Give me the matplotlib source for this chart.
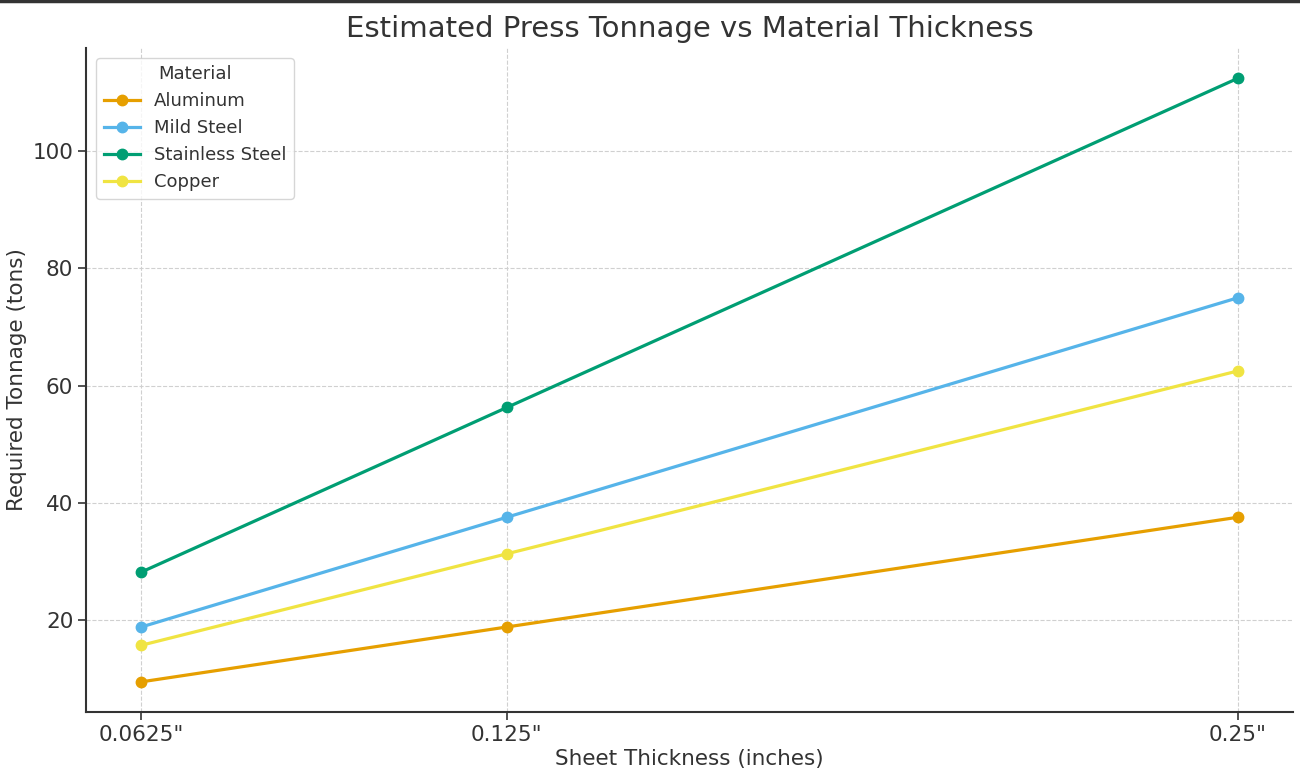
import matplotlib
matplotlib.use("Agg")
import matplotlib.pyplot as plt
from matplotlib.lines import Line2D

thickness = [0.0625, 0.125, 0.25]
tick_labels = ['0.0625"', '0.125"', '0.25"']
materials = ["Aluminum", "Mild Steel", "Stainless Steel", "Copper"]
aluminum = [9.375, 18.75, 37.5]
mild_steel = [18.75, 37.5, 75.0]
stainless = [28.125, 56.25, 112.5]
copper = [15.625, 31.25, 62.5]
colors = ["#E69F00", "#56B4E9", "#009E73", "#F0E442"]

text_color = "#333333"
plt.rcParams['font.family'] = ['DejaVu Sans']
plt.rcParams['text.color'] = text_color
plt.rcParams['axes.labelcolor'] = text_color
plt.rcParams['xtick.color'] = text_color
plt.rcParams['ytick.color'] = text_color

fig = plt.figure(figsize=(13, 7.81), dpi=100)
ax = fig.add_axes([0.0665, 0.0883, 0.928, 0.8502])

for name, vals, c in zip(materials, [aluminum, mild_steel, stainless, copper], colors):
    ax.plot(thickness, vals, marker='o', color=c, lw=2.3, markersize=7.5, label=name)

ax.set_xticks(thickness)
ax.set_xticklabels(tick_labels)
ax.tick_params(labelsize=15.5, length=6, width=1.2)
ax.set_xlabel("Sheet Thickness (inches)", fontsize=15.5, labelpad=3)
ax.set_ylabel("Required Tonnage (tons)", fontsize=15.5)
ax.set_title("Estimated Press Tonnage vs Material Thickness", fontsize=21, pad=8)

ax.grid(True, linestyle='--', color='#d0d0d0', lw=0.8)
for s in ['top', 'right']:
    ax.spines[s].set_visible(False)
for s in ['left', 'bottom']:
    ax.spines[s].set_color(text_color)
    ax.spines[s].set_linewidth(1.5)

leg = ax.legend(title="Material", loc='upper left', fontsize=13, title_fontsize=13,
                frameon=True, borderaxespad=0.55)
leg.get_frame().set_edgecolor('#cccccc')

fig.add_artist(Line2D([0, 1], [0.999, 0.999], transform=fig.transFigure, color='#333333', lw=2.5))

fig.savefig("out.png", dpi=100)
